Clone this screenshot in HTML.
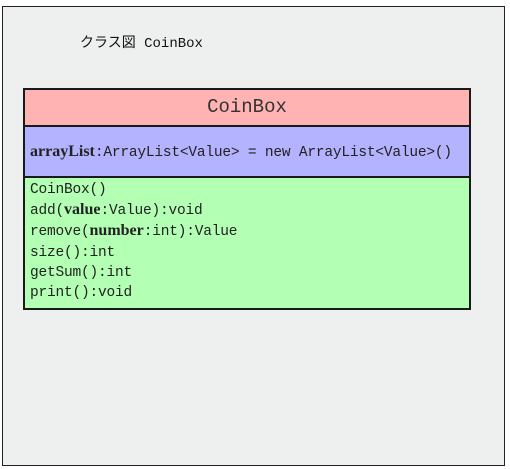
<!DOCTYPE html>
<html><head><meta charset="utf-8"><style>
body{margin:0;width:510px;height:469px;background:#fff;position:relative;overflow:hidden}
.frame{position:absolute;left:2px;top:6px;width:503px;height:460px;border:1px solid #222;background:#eef0ef;box-sizing:border-box}
.title{position:absolute;left:80px;top:32px;font:14px "Liberation Mono","Noto Sans CJK JP",monospace;color:#111}
.box{position:absolute;left:23px;top:88px;width:448px;height:222px;border:2px solid #1a1a1a;box-sizing:border-box;overflow:hidden}
.box div{box-sizing:border-box}
.h{height:37px;background:#ffb3b3;border-bottom:2px solid #1a1a1a;text-align:center;font:19px "Liberation Mono",monospace;line-height:35px;color:#333}
.a{height:51px;background:#b3b3ff;border-bottom:2px solid #1a1a1a;font:14.5px "Liberation Mono",monospace;line-height:49px;padding-left:5px;color:#222;white-space:nowrap;letter-spacing:-0.2px}
.m{background:#b3ffb3;height:130px;font:14.5px "Liberation Mono",monospace;line-height:20.2px;padding:2px 0 0 5px;color:#222;letter-spacing:-0.2px}
b{font-family:"Liberation Serif",serif;font-size:16px;letter-spacing:0}
</style></head><body>
<div class="frame"></div>
<div class="title">クラス図 CoinBox</div>
<div class="box">
<div class="h">CoinBox</div>
<div class="a"><b>arrayList</b>:ArrayList&lt;Value&gt; = new ArrayList&lt;Value&gt;()</div>
<div class="m">CoinBox()<br>add(<b>value</b>:Value):void<br>remove(<b>number</b>:int):Value<br>size():int<br>getSum():int<br>print():void</div>
</div>
</body></html>
